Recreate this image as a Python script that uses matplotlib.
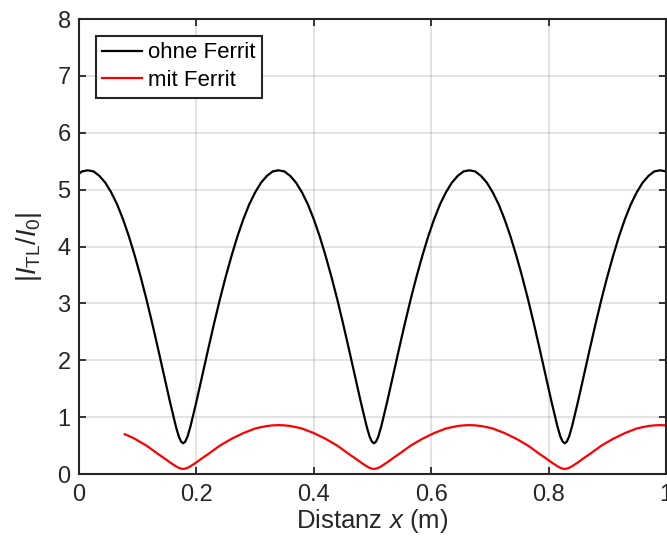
import numpy as np
import matplotlib
matplotlib.use("Agg")
import matplotlib.pyplot as plt

plt.rcParams['font.family'] = ['Liberation Sans', 'DejaVu Sans']
plt.rcParams['mathtext.fontset'] = 'custom'
plt.rcParams['mathtext.rm'] = 'Liberation Sans'
plt.rcParams['mathtext.it'] = 'Liberation Sans:italic'

# ohne Ferrit
x_ohne = [0.000, 0.005, 0.015, 0.025, 0.035, 0.045, 0.055, 0.065, 0.075, 0.085, 0.095, 0.105,
          0.115, 0.125, 0.135, 0.145, 0.155, 0.165, 0.170, 0.174, 0.1775, 0.181, 0.185,
          0.190, 0.200, 0.210, 0.220, 0.230, 0.240, 0.250, 0.260, 0.270, 0.280, 0.290,
          0.300, 0.310, 0.320, 0.330, 0.340, 0.350, 0.360, 0.370, 0.380, 0.390, 0.400,
          0.410, 0.420, 0.430, 0.440, 0.450, 0.460, 0.470, 0.480, 0.490, 0.495, 0.499,
          0.5025, 0.506, 0.510, 0.515, 0.525, 0.535, 0.545, 0.555, 0.565, 0.575, 0.585,
          0.595, 0.605, 0.615, 0.625, 0.635, 0.645, 0.655, 0.665, 0.675, 0.685, 0.695,
          0.705, 0.715, 0.725, 0.735, 0.745, 0.755, 0.765, 0.775, 0.785, 0.795, 0.805,
          0.815, 0.820, 0.824, 0.8275, 0.831, 0.835, 0.840, 0.850, 0.860, 0.870, 0.880,
          0.890, 0.900, 0.910, 0.920, 0.930, 0.940, 0.950, 0.960, 0.970, 0.980, 0.990,
          1.000]
y_ohne = [5.28, 5.32, 5.34, 5.32, 5.24, 5.12, 4.95, 4.74, 4.48, 4.18, 3.84, 3.47,
          3.07, 2.64, 2.19, 1.73, 1.27, 0.84, 0.66, 0.57, 0.54, 0.57, 0.66,
          0.84, 1.27, 1.73, 2.19, 2.64, 3.07, 3.47, 3.84, 4.18, 4.48, 4.74,
          4.95, 5.12, 5.24, 5.32, 5.34, 5.32, 5.24, 5.12, 4.95, 4.74, 4.48,
          4.18, 3.84, 3.47, 3.07, 2.64, 2.19, 1.73, 1.27, 0.84, 0.66, 0.57,
          0.54, 0.57, 0.66, 0.84, 1.27, 1.73, 2.19, 2.64, 3.07, 3.47, 3.84,
          4.18, 4.48, 4.74, 4.95, 5.12, 5.24, 5.32, 5.34, 5.32, 5.24, 5.12,
          4.95, 4.74, 4.48, 4.18, 3.84, 3.47, 3.07, 2.64, 2.19, 1.73, 1.27,
          0.84, 0.66, 0.57, 0.54, 0.57, 0.66, 0.84, 1.27, 1.73, 2.19, 2.64,
          3.07, 3.47, 3.84, 4.18, 4.48, 4.74, 4.95, 5.12, 5.24, 5.32, 5.34,
          5.32]

# mit Ferrit
x_mit = [0.078, 0.085, 0.095, 0.105, 0.115, 0.125, 0.135, 0.145, 0.155, 0.165, 0.170,
         0.174, 0.1775, 0.181, 0.185, 0.190, 0.200, 0.210, 0.220, 0.230, 0.240, 0.250,
         0.260, 0.270, 0.280, 0.290, 0.300, 0.310, 0.320, 0.330, 0.340, 0.350, 0.360,
         0.370, 0.380, 0.390, 0.400, 0.410, 0.420, 0.430, 0.440, 0.450, 0.460, 0.470,
         0.480, 0.490, 0.495, 0.499, 0.5025, 0.506, 0.510, 0.515, 0.525, 0.535, 0.545,
         0.555, 0.565, 0.575, 0.585, 0.595, 0.605, 0.615, 0.625, 0.635, 0.645, 0.655,
         0.665, 0.675, 0.685, 0.695, 0.705, 0.715, 0.725, 0.735, 0.745, 0.755, 0.765,
         0.775, 0.785, 0.795, 0.805, 0.815, 0.820, 0.824, 0.8275, 0.831, 0.835, 0.840,
         0.850, 0.860, 0.870, 0.880, 0.890, 0.900, 0.910, 0.920, 0.930, 0.940, 0.950,
         0.960, 0.970, 0.980, 0.990, 1.000]
y_mit = [0.70, 0.67, 0.62, 0.56, 0.50, 0.425, 0.35, 0.28, 0.205, 0.137, 0.109,
         0.095, 0.09, 0.095, 0.109, 0.137, 0.205, 0.28, 0.35, 0.425, 0.50, 0.56,
         0.62, 0.67, 0.72, 0.76, 0.80, 0.824, 0.844, 0.856, 0.86, 0.856, 0.844,
         0.824, 0.80, 0.76, 0.72, 0.67, 0.62, 0.56, 0.50, 0.425, 0.35, 0.28,
         0.205, 0.137, 0.109, 0.095, 0.09, 0.095, 0.109, 0.137, 0.205, 0.28, 0.35,
         0.425, 0.50, 0.56, 0.62, 0.67, 0.72, 0.76, 0.80, 0.824, 0.844, 0.856,
         0.86, 0.856, 0.844, 0.824, 0.80, 0.76, 0.72, 0.67, 0.62, 0.56, 0.50,
         0.425, 0.35, 0.28, 0.205, 0.137, 0.109, 0.095, 0.09, 0.095, 0.109, 0.137,
         0.205, 0.28, 0.35, 0.425, 0.50, 0.56, 0.62, 0.67, 0.72, 0.76, 0.80,
         0.824, 0.844, 0.856, 0.86, 0.856]

x_ticks = [0, 0.2, 0.4, 0.6, 0.8, 1]
x_labels = ['0', '0.2', '0.4', '0.6', '0.8', '1']
y_ticks = [0, 1, 2, 3, 4, 5, 6, 7, 8]

fig = plt.figure(figsize=(6.67, 5.43), dpi=100)
ax = fig.add_axes([0.1184, 0.127, 0.8801, 0.838])

ax.plot(x_ohne, y_ohne, color='black', lw=1.6, label='ohne Ferrit')
ax.plot(x_mit, y_mit, color='#ff0000', lw=1.6, label='mit Ferrit')

ax.set_xlim(0, 1)
ax.set_ylim(0, 8)
ax.set_xticks(x_ticks)
ax.set_xticklabels(x_labels)
ax.set_yticks(y_ticks)
ax.grid(True, color='#262626', alpha=0.15, lw=1.2)
ax.set_axisbelow(True)
ax.tick_params(direction='in', length=5, width=1.3, colors='#262626',
               labelsize=17, top=True, right=True)
ax.tick_params(axis='x', pad=7)
ax.tick_params(axis='y', pad=6)
for s in ax.spines.values():
    s.set_color('#262626')
    s.set_linewidth(1.5)

ax.set_xlabel('Distanz $x$ (m)', fontsize=18.5, color='#262626', labelpad=1)
ax.set_ylabel(r'$|I_{\mathrm{TL}}/I_{\mathrm{0}}|$', fontsize=19.5, color='#262626', labelpad=10)

leg = ax.legend(loc='upper left', fontsize=16, fancybox=False, framealpha=1,
                edgecolor='#262626', handlelength=1.8, handletextpad=0.25,
                borderpad=0.3, labelspacing=0.3, borderaxespad=0.75)
leg.get_frame().set_linewidth(1.5)

fig.savefig('out.png', dpi=100)
